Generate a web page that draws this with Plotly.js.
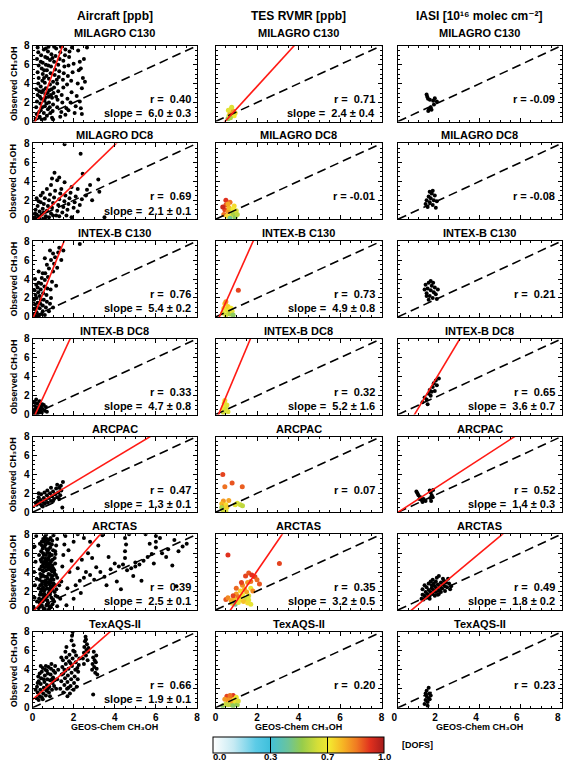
<!DOCTYPE html>
<html><head><meta charset="utf-8">
<script src="https://cdn.plot.ly/plotly-3.0.1.min.js"></script>
<style>html,body{margin:0;padding:0;background:#fff;overflow:hidden}#chart{width:563px;height:763px}</style>
</head><body><div id="chart"></div>
<script>
// ---------------- DATA ----------------
const campaigns = ['MILAGRO C130','MILAGRO DC8','INTEX-B C130','INTEX-B DC8','ARCPAC','ARCTAS','TexAQS-II'];
const columnTitles = ['Aircraft [ppb]','TES RVMR [ppb]','IASI [10\u00b9\u2076 molec cm\u207b\u00b2]'];
const xAxisTitle = 'GEOS-Chem CH\u2083OH';
const yAxisTitle = 'Observed CH\u2083OH';
const axisRange = [0, 8];
const oneToOne = [0, 8];
const dofsTicks = [0, 1/3, 2/3, 1.0];
const dofsTickText = ['0.0','0.3','0.7','1.0'];
const dofsTitle = '[DOFS]';

// correlation r per row: [Aircraft, TES, IASI]
const rValues = [
  [0.40, 0.71, -0.09],
  [0.69, -0.01, -0.08],
  [0.76, 0.73, 0.21],
  [0.33, 0.32, 0.65],
  [0.47, 0.07, 0.52],
  [0.39, 0.35, 0.49],
  [0.66, 0.20, 0.23]
];
const slopes = [
  [6.0, 2.4, null],
  [2.1, null, null],
  [5.4, 4.9, null],
  [4.7, 5.2, 3.6],
  [1.3, null, 1.4],
  [2.5, 3.2, 1.8],
  [1.9, null, null]
];
const slopeErrs = [
  [0.3, 0.4, null],
  [0.1, null, null],
  [0.2, 0.8, null],
  [0.8, 1.6, 0.7],
  [0.1, null, 0.3],
  [0.1, 0.5, 0.2],
  [0.1, null, null]
];
const intercepts = [
  [-0.8, -1.1, null],
  [-0.55, null, null],
  [-0.3, -0.9, null],
  [-0.6, -0.75, -2.9],
  [0.55, null, 0.0],
  [-0.25, -2.3, -1.2],
  [0.85, null, null]
];

// Aircraft [x, y]
const airMilagroC130 = [[0.15,0.3],[0.2,0.8],[0.18,1.5],[0.22,2.1],[0.25,2.8],[0.2,3.4],[0.28,4.0],[0.3,4.6],[0.25,5.2],[0.3,5.9],[0.22,6.6],[0.28,7.3],[0.35,0.5],[0.4,1.2],[0.38,1.9],[0.42,2.4],[0.45,3.1],[0.4,3.7],[0.48,4.3],[0.5,5.0],[0.45,5.6],[0.5,6.2],[0.42,7.0],[0.55,7.6],[0.55,0.9],[0.6,1.6],[0.58,2.2],[0.62,2.9],[0.65,3.5],[0.6,4.1],[0.68,4.8],[0.7,5.4],[0.65,6.0],[0.72,6.7],[0.75,7.4],[0.78,7.9],[0.7,0.6],[0.75,1.3],[0.8,2.0],[0.78,2.6],[0.82,3.3],[0.85,3.9],[0.8,4.5],[0.88,5.1],[0.9,5.8],[0.85,6.5],[0.92,7.1],[0.95,0.4],[0.98,1.1],[1.0,1.8],[0.95,2.5],[1.02,3.0],[1.05,3.6],[1.0,4.2],[1.08,4.9],[1.1,5.5],[1.05,6.3],[1.12,6.9],[1.15,7.7],[0.32,1.0],[0.36,2.6],[0.52,3.3],[0.56,4.6],[0.64,2.5],[0.74,3.0],[0.84,1.5],[0.9,2.8],[0.6,0.3],[0.45,0.2],[1.2,1.5],[1.22,2.3],[1.25,3.2],[1.2,4.0],[1.28,4.7],[1.3,5.3],[1.25,6.0],[1.32,6.6],[1.35,7.3],[1.38,7.9],[1.4,1.0],[1.45,2.0],[1.42,2.8],[1.5,3.6],[1.48,4.4],[1.52,5.1],[1.55,5.8],[1.5,6.4],[1.58,7.0],[1.6,7.6],[1.65,1.4],[1.7,2.4],[1.68,3.9],[1.72,4.8],[1.75,5.9],[1.78,6.8],[1.8,7.4],[1.85,2.0],[1.9,3.1],[1.88,4.3],[1.95,5.2],[2.0,6.1],[1.92,7.8],[2.05,0.9],[2.1,1.6],[2.15,2.7],[2.2,4.0],[2.25,5.4],[2.3,6.3],[2.22,7.5],[2.35,1.4],[2.3,2.1],[2.4,3.5],[2.45,4.6],[2.35,5.6],[2.5,6.6],[2.65,7.8],[2.4,0.8],[2.55,4.2],[1.35,0.5],[1.6,0.7],[1.0,0.2],[0.25,7.8],[0.65,7.7],[1.05,7.9],[1.75,1.2],[0.33,3.2],[0.47,1.5],[0.57,5.4],[0.68,1.9],[0.77,5.9],[0.93,3.4],[0.97,6.7],[1.15,2.6],[1.18,4.4],[0.4,6.3],[0.62,6.8],[0.87,0.9]];
const airMilagroDC8 = [[1.56,7.9],[2.34,6.9],[1.07,4.9],[1.3,4.4],[1.56,3.9],[2.44,4.8],[3.2,4.2],[2.8,3.6],[3.25,2.9],[2.2,3.2],[2.6,2.5],[2.9,2.0],[3.5,0.2],[1.9,0.2],[0.1,0.2],[0.2,0.5],[0.15,1.0],[0.3,0.3],[0.35,0.8],[0.25,1.4],[0.4,1.8],[0.45,0.5],[0.5,1.1],[0.55,1.6],[0.6,2.2],[0.65,0.3],[0.7,0.9],[0.75,1.4],[0.8,2.0],[0.85,2.6],[0.9,0.6],[0.95,1.2],[1.0,1.7],[1.05,2.3],[1.1,3.0],[1.15,0.4],[1.2,0.9],[1.25,1.5],[1.3,2.1],[1.35,2.7],[1.4,3.2],[1.45,0.7],[1.5,1.3],[1.55,1.9],[1.6,2.5],[1.7,1.0],[1.75,1.6],[1.8,2.2],[1.85,2.8],[1.9,3.4],[2.0,1.2],[2.05,1.8],[2.1,2.4],[2.2,0.8],[2.3,1.5],[2.4,2.1],[0.5,2.8],[0.7,3.2],[0.9,3.6],[0.6,0.1],[0.35,0.1],[0.8,0.2],[1.0,0.4],[1.3,0.3],[0.2,2.2],[0.4,2.5],[0.15,0.0],[0.3,1.9],[0.55,0.7],[1.65,0.4],[0.12,0.6],[1.2,4.1],[0.95,4.3],[2.65,3.1]];
const airIntexC130 = [[0.05,0.3],[0.1,0.8],[0.12,1.3],[0.08,1.8],[0.15,2.3],[0.1,2.8],[0.2,0.5],[0.22,1.0],[0.25,1.5],[0.2,2.0],[0.28,2.6],[0.25,3.1],[0.3,3.6],[0.32,0.2],[0.35,0.9],[0.38,1.4],[0.35,2.2],[0.4,2.9],[0.42,3.5],[0.45,4.1],[0.5,0.6],[0.5,1.2],[0.55,1.8],[0.52,2.5],[0.58,3.2],[0.6,3.9],[0.62,4.6],[0.65,1.0],[0.7,1.6],[0.68,2.3],[0.72,3.0],[0.75,4.2],[0.8,5.1],[0.85,1.4],[0.9,2.0],[0.88,2.9],[0.95,3.7],[1.0,4.8],[1.05,5.6],[1.1,6.3],[1.2,5.2],[1.25,6.8],[1.3,7.3],[1.15,3.3],[1.4,6.0],[1.5,7.0],[2.3,7.7],[0.3,0.1],[0.15,0.1],[0.45,0.3],[0.6,0.2],[0.8,0.6],[1.0,1.0],[0.4,1.8],[0.18,3.4],[0.5,4.6],[0.7,5.5],[0.9,6.0],[1.0,6.7],[0.12,4.0],[0.3,4.8],[0.6,6.2],[0.85,7.0]];
const airIntexDC8 = [[0.05,0.2],[0.1,0.5],[0.12,0.9],[0.15,0.3],[0.2,0.7],[0.22,1.2],[0.25,0.1],[0.3,0.5],[0.32,0.9],[0.35,1.4],[0.4,0.3],[0.42,0.8],[0.45,0.2],[0.5,0.6],[0.55,1.0],[0.6,0.4],[0.08,1.3],[0.18,1.6],[0.28,0.2],[0.38,0.6],[0.65,0.8],[0.7,0.3],[0.15,0.0],[0.48,1.1]];
const airArcpac = [[0.2,0.8],[0.25,1.2],[0.3,1.6],[0.35,0.9],[0.4,1.3],[0.42,1.9],[0.45,0.7],[0.5,1.1],[0.55,1.5],[0.58,2.1],[0.6,0.9],[0.65,1.3],[0.7,1.8],[0.72,2.3],[0.75,1.0],[0.8,1.5],[0.85,2.0],[0.9,1.2],[0.95,1.7],[1.0,2.2],[1.05,1.4],[1.1,1.9],[1.15,2.5],[1.2,1.6],[1.25,2.1],[1.3,2.6],[1.35,1.8],[1.4,2.3],[1.48,3.2],[1.45,0.5],[1.2,2.9],[0.9,2.6],[0.5,0.6],[0.3,2.0],[1.0,1.2],[1.3,1.4],[0.15,1.0],[1.38,2.8]];
const airArctas = [[0.3,0.2],[0.45,0.5],[0.6,0.1],[0.75,0.7],[0.9,0.3],[1.05,0.9],[1.2,0.4],[0.5,0.9],[0.35,0.8],[0.8,0.1],
 [0.32,1.2],[0.48,1.6],[0.62,1.1],[0.78,1.8],[0.92,1.3],[1.08,1.9],[1.22,1.4],[0.4,1.9],[0.7,1.4],[1.0,1.1],[0.55,1.3],[0.85,1.6],
 [0.3,2.3],[0.46,2.7],[0.6,2.1],[0.74,2.9],[0.88,2.4],[1.02,2.8],[1.16,2.2],[1.3,2.6],[0.52,2.4],[0.66,2.6],[0.95,2.1],[0.8,2.2],
 [0.34,3.2],[0.5,3.7],[0.64,3.1],[0.78,3.8],[0.92,3.3],[1.06,3.9],[1.2,3.4],[0.42,3.5],[0.7,3.5],[0.98,3.6],[0.56,3.0],[0.85,3.1],
 [0.36,4.3],[0.52,4.8],[0.66,4.2],[0.8,4.6],[0.94,4.1],[1.1,4.9],[0.44,4.6],[0.72,4.9],[1.0,4.4],[0.58,4.5],[0.86,4.3],
 [0.4,5.3],[0.55,5.8],[0.7,5.2],[0.84,5.7],[0.98,5.3],[1.12,5.9],[0.48,5.5],[0.76,5.5],[0.62,5.4],[0.9,5.1],
 [0.42,6.2],[0.58,6.7],[0.72,6.1],[0.86,6.6],[1.0,6.3],[0.5,6.5],[0.78,6.4],[0.64,6.9],[1.15,6.8],
 [0.45,7.2],[0.6,7.7],[0.74,7.1],[0.88,7.6],[1.02,7.9],[0.52,7.5],[0.8,7.4],[0.66,7.95],[1.2,7.5],
 [0.38,0.4],[0.53,0.2],[0.68,0.5],[0.83,0.4],[0.97,0.6],[0.42,1.1],[0.58,1.7],[0.72,1.0],[0.88,1.9],[1.12,1.5],[0.36,1.6],[0.64,1.5],
 [0.38,2.6],[0.55,2.0],[0.7,2.3],[0.84,2.7],[0.98,2.5],[1.1,2.6],[0.44,2.2],[0.62,2.8],[0.9,2.9],[0.46,3.0],[0.6,3.5],[0.74,3.3],
 [0.88,3.7],[1.02,3.2],[1.14,3.7],[0.38,3.8],[0.54,4.1],[0.68,4.6],[0.84,4.9],[0.96,4.7],[0.48,4.2],[0.62,4.9],[0.76,4.3],[0.44,5.1],
 [0.58,5.1],[0.66,5.8],[0.8,5.3],[0.94,5.8],[0.52,6.0],[0.68,6.4],[0.82,6.0],[0.94,6.9],[0.46,6.8],[0.56,7.2],[0.7,7.5],[0.84,7.0],
 [0.96,7.3],[0.62,7.3],[0.9,4.5],[0.32,5.8],[0.36,7.0],[1.08,5.5],[1.1,6.2],[1.06,4.2],
 [0.05,0.3],[0.1,1.3],[0.12,2.6],[0.08,4.0],[0.15,5.1],[0.1,6.7],[0.18,7.8],[0.2,3.3],[0.22,0.9],
 [1.35,1.2],[1.4,3.0],[1.45,4.6],[1.5,5.8],[1.55,6.9],[1.6,7.8],[1.7,2.3],[1.8,4.0],[1.9,5.2],[1.75,6.3],[2.0,7.2],[1.65,0.5],
 [2.1,2.6],[2.3,3.1],[2.5,3.4],[2.2,4.4],[2.6,4.0],[2.8,3.7],[3.0,3.2],[2.4,5.3],[2.7,6.0],[2.9,5.5],[3.1,4.5],[3.3,4.0],[3.5,3.5],[3.2,6.8],[2.5,7.6],[2.2,8.0],[3.6,2.6],[3.8,4.3],[4.0,4.9],[3.7,5.6],[2.35,1.8],[2.0,1.2],[3.4,7.9],[2.8,7.2],
 [4.2,4.6],[4.4,4.8],[4.5,5.5],[4.5,6.2],[4.55,6.9],[4.5,7.6],[4.6,4.2],[4.8,4.4],[5.0,4.6],[5.0,5.0],[5.2,4.8],[5.4,5.2],[5.6,5.6],[5.8,5.9],[5.7,7.0],[6.0,6.6],[6.0,7.2],[6.0,7.8],[6.3,6.0],[6.5,5.6],[6.8,4.7],[6.9,7.4],[7.1,6.2],[7.3,6.7],[7.5,7.0],[4.1,3.0],[4.9,3.6],[5.3,3.1],[6.2,7.6],[5.5,8.0],[7.0,2.5],[4.3,2.2],[4.7,8.0],[5.9,4.9],[6.6,6.4]];
const airTexaqs = [[0.2,1.0],[0.25,1.6],[0.22,2.2],[0.3,2.8],[0.28,3.3],[0.35,1.2],[0.38,1.9],[0.4,2.5],[0.42,3.1],[0.45,3.8],[0.5,0.9],[0.52,1.5],[0.55,2.1],[0.58,2.7],[0.6,3.4],[0.62,4.0],[0.65,1.3],[0.68,1.8],[0.7,2.4],[0.72,3.0],[0.75,3.6],[0.78,4.3],[0.8,1.6],[0.82,2.2],[0.85,2.9],[0.88,3.5],[0.9,4.1],[0.92,4.6],[0.95,1.9],[0.98,2.6],[1.0,3.2],[1.02,3.9],[1.05,2.3],[1.08,2.9],[1.1,3.7],[0.3,0.8],[0.45,1.1],[0.6,2.0],[0.75,2.0],[0.35,3.6],[0.5,4.2],[0.65,4.4],[0.85,1.2],[1.1,4.4],[0.4,4.4],[0.55,3.0],[0.7,3.9],[0.25,2.6],[0.95,3.0],[0.15,1.9],[1.2,3.0],[1.25,4.0],[1.15,2.0],
 [1.35,2.0],[1.4,2.8],[1.42,3.5],[1.45,4.3],[1.48,5.0],[1.5,1.6],[1.55,2.4],[1.58,3.1],[1.6,3.9],[1.62,4.6],[1.65,5.3],[1.68,2.0],[1.7,2.7],[1.72,3.4],[1.75,4.1],[1.78,4.9],[1.8,5.6],[1.82,1.5],[1.85,2.3],[1.88,3.0],[1.9,3.7],[1.92,4.4],[1.95,5.2],[1.98,6.0],[2.0,1.9],[2.02,2.6],[2.05,3.3],[2.08,4.0],[2.1,4.8],[2.12,5.5],[2.15,2.2],[2.2,3.0],[2.22,3.8],[2.25,4.5],[2.28,5.2],[1.9,7.1],[1.92,7.6],[1.95,8.0],[2.0,6.6],[1.6,5.9],[1.7,1.2],[1.5,3.6],[1.85,4.7],[2.05,5.9],[2.18,4.2],[1.55,4.0],[1.75,2.1],[1.4,5.3],[1.65,6.4],
 [2.45,5.2],[2.5,5.8],[2.52,6.4],[2.55,7.0],[2.58,7.5],[2.6,5.5],[2.62,6.1],[2.65,6.7],[2.68,5.0],[2.7,5.9],[2.5,4.6],[2.6,7.2],[2.72,6.3],
 [2.9,4.0],[2.92,4.6],[2.95,5.3],[2.98,5.9],[3.0,4.3],[3.02,5.0],[3.05,3.7],[3.08,4.8],[3.1,5.5],[3.12,4.1],[2.95,1.4],[3.15,3.5]];

// TES [x, y, DOFS]
const tesMilagroC130 = [[0.6,0.3,0.5],[0.65,0.6,0.62],[0.7,0.9,0.78],[0.75,1.3,0.65],[0.8,0.7,0.88],[0.85,1.1,0.8],[0.9,0.6,0.68],[0.72,0.4,0.55],[0.95,0.9,0.66],[0.62,1.2,0.64],[0.78,1.5,0.63]];
const tesMilagroDC8 = [[0.4,0.5,0.85],[0.45,1.0,0.9],[0.5,1.5,0.88],[0.55,0.3,0.7],[0.6,0.8,0.8],[0.65,1.2,0.75],[0.7,1.8,0.85],[0.75,0.4,0.65],[0.8,1.0,0.6],[0.85,0.6,0.55],[0.9,1.4,0.7],[0.95,0.2,0.5],[1.0,0.9,0.62],[0.5,2.0,0.92],[0.35,1.3,0.95],[0.7,0.1,0.45],[0.6,1.6,0.78],[0.85,1.1,0.68],[1.05,0.5,0.58]];
const tesIntexC130 = [[0.35,0.4,0.65],[0.4,0.9,0.7],[0.45,1.4,0.75],[0.5,0.2,0.6],[0.55,0.7,0.66],[0.6,1.1,0.72],[0.65,0.5,0.62],[0.7,0.3,0.55],[0.75,0.9,0.68],[0.8,0.6,0.64],[0.85,0.2,0.5],[1.1,2.8,0.9],[0.5,1.6,0.8]];
const tesIntexDC8 = [[0.35,0.4,0.65],[0.4,0.8,0.68],[0.42,1.2,0.66],[0.45,1.5,0.7],[0.5,0.6,0.62],[0.55,1.0,0.64],[0.38,0.2,0.6],[0.6,0.3,0.63]];
const tesArcpac = [[0.35,4.0,0.9],[0.45,2.7,0.85],[0.8,3.1,0.88],[1.29,2.7,0.87],[0.38,1.2,0.8],[0.64,1.25,0.78],[0.3,0.9,0.75],[0.4,0.6,0.82],[0.5,0.8,0.7],[0.45,0.3,0.65],[0.35,0.2,0.6],[0.55,0.5,0.72],[0.5,0.1,0.62],[0.95,0.8,0.64],[1.05,0.95,0.62],[1.2,0.8,0.6],[1.3,0.7,0.58],[0.3,0.5,0.55]];
const tesArctas = [[0.6,5.8,0.92],[3.08,4.9,0.9],[1.45,3.6,0.9],[1.6,3.9,0.88],[1.75,3.7,0.92],[1.9,3.5,0.9],[2.0,3.2,0.86],[2.12,2.75,0.88],[1.7,3.0,0.85],[1.55,2.9,0.8],[1.3,2.6,0.82],[1.4,2.2,0.76],[1.2,2.0,0.7],[1.5,1.9,0.78],[1.7,2.3,0.66],[1.0,1.7,0.8],[1.1,1.4,0.85],[1.3,1.6,0.68],[1.6,1.5,0.62],[0.9,1.2,0.75],[1.2,1.1,0.7],[1.45,1.2,0.6],[1.6,1.05,0.64],[0.5,1.1,0.88],[0.6,1.3,0.82],[0.75,1.0,0.78],[0.8,0.7,0.72],[0.95,0.6,0.45],[1.1,0.8,0.66],[1.35,0.9,0.74],[1.55,0.75,0.7],[1.7,0.6,0.65],[0.85,1.5,0.9],[1.0,2.3,0.86],[1.25,2.9,0.9],[1.8,2.0,0.82]];
const tesTexaqs = [[0.35,0.2,0.5],[0.5,0.4,0.6],[0.55,1.2,0.9],[0.6,0.8,0.82],[0.65,0.5,0.75],[0.7,1.0,0.8],[0.75,0.3,0.55],[0.8,0.7,0.78],[0.85,1.3,0.92],[0.9,0.9,0.7],[0.95,0.5,0.65],[1.0,1.1,0.66],[1.05,0.3,0.52],[0.45,0.9,0.8],[0.7,1.3,0.85],[0.85,0.2,0.5],[1.1,0.7,0.62],[0.6,0.3,0.58]];

// IASI [x, y]
const iasiMilagroC130 = [[1.4,2.85],[1.43,2.6],[1.47,2.4],[1.56,2.3],[1.72,2.2],[1.8,2.45],[1.9,2.1],[1.64,1.25],[1.48,1.1],[1.6,1.5],[1.76,1.8],[1.52,1.3]];
const iasiMilagroDC8 = [[1.35,1.6],[1.4,2.0],[1.45,1.3],[1.5,2.4],[1.55,1.8],[1.6,2.2],[1.65,2.7],[1.7,1.5],[1.75,2.0],[1.8,2.5],[1.85,1.2],[1.9,1.9],[1.55,2.9],[1.7,3.0]];
const iasiIntexC130 = [[1.3,2.9],[1.35,3.4],[1.4,2.5],[1.45,3.0],[1.5,3.6],[1.55,2.2],[1.6,2.8],[1.65,3.3],[1.7,2.0],[1.75,2.6],[1.8,3.1],[1.85,2.4],[1.9,1.9],[1.5,1.8],[1.6,3.8],[1.72,3.6],[1.4,2.2],[1.95,2.9]];
const iasiIntexDC8 = [[1.2,1.3],[1.3,1.8],[1.4,1.6],[1.5,2.2],[1.55,2.6],[1.6,2.0],[1.7,2.9],[1.75,3.3],[1.8,2.5],[1.85,3.6],[1.9,3.1],[2.0,3.8],[1.45,1.1],[1.65,2.4]];
const iasiArcpac = [[0.9,2.2],[0.95,2.0],[1.0,1.8],[1.05,1.4],[1.1,1.6],[1.15,1.3],[1.2,1.1],[1.25,1.4],[1.55,2.3],[1.6,2.1],[1.65,1.8],[1.7,1.6],[1.62,1.2],[1.72,2.35],[1.58,1.5],[1.35,1.2]];
const iasiArctas = [[1.15,1.2],[1.2,1.6],[1.25,1.1],[1.3,1.5],[1.35,1.9],[1.4,1.3],[1.45,1.7],[1.5,2.1],[1.55,1.5],[1.6,1.9],[1.65,2.3],[1.7,1.7],[1.75,2.1],[1.8,2.5],[1.85,1.9],[1.9,2.3],[1.95,2.7],[2.0,2.1],[2.05,2.5],[2.1,2.9],[2.15,2.3],[2.2,2.7],[2.25,3.1],[2.3,2.5],[2.35,2.9],[2.4,2.4],[2.5,2.8],[2.55,2.2],[1.5,2.8],[1.6,3.0],[1.7,3.2],[1.9,3.4],[2.0,3.6],[2.2,3.3],[1.8,1.5],[2.0,1.7],[2.1,1.9],[1.4,2.4],[1.3,2.6],[1.65,2.6],[1.75,2.8],[1.95,1.6],[2.3,2.0],[1.55,1.2],[1.85,3.0],[2.45,3.3],[1.2,2.2],[2.6,2.5]];
const iasiTexaqs = [[1.3,0.4],[1.35,0.8],[1.4,1.2],[1.45,0.6],[1.5,1.0],[1.55,1.5],[1.4,1.8],[1.5,2.1],[1.6,1.3],[1.35,1.5],[1.45,0.2],[1.55,0.9]];

const aircraftData = [airMilagroC130, airMilagroDC8, airIntexC130, airIntexDC8, airArcpac, airArctas, airTexaqs];
const tesData = [tesMilagroC130, tesMilagroDC8, tesIntexC130, tesIntexDC8, tesArcpac, tesArctas, tesTexaqs];
const iasiData = [iasiMilagroC130, iasiMilagroDC8, iasiIntexC130, iasiIntexDC8, iasiArcpac, iasiArctas, iasiTexaqs];

// ---------------- LAYOUT (pixels) ----------------
const W = 563, H = 763;
const colL = [32.5, 215.5, 398];
const colR = [197, 381.5, 561.5];
const rowTop0 = 45.7, rowStep = 97.7, rowH = 75.8;
const cbarL = 213.3, cbarR = 384, cbarTop = 737, cbarBot = 753;
const FONT = 'Liberation Sans, Arial, Helvetica, DejaVu Sans, sans-serif';
const px = v => v / W;
const py = v => 1 - v / H;

const traces = [];
const annotations = [];
const layout = {
  width: W, height: H,
  margin: {l: 0, r: 0, t: 0, b: 0, pad: 0, autoexpand: false},
  paper_bgcolor: '#fff', plot_bgcolor: '#fff',
  showlegend: false, hovermode: false,
  font: {family: FONT, color: '#000'},
  coloraxis: {
    cmin: 0, cmax: 1,
    colorscale: [[0,'#ffffff'],[0.12,'#c6eaf3'],[0.25,'#5ccbe6'],[0.33,'#40c0dc'],[0.44,'#6cc49a'],[0.52,'#96cc4c'],[0.61,'#d4de38'],[0.68,'#f4e830'],[0.76,'#f6b424'],[0.84,'#f07a22'],[0.92,'#e0301e'],[1,'#a41c1c']],
    colorbar: {
      orientation: 'h', x: px((cbarL + cbarR) / 2), xanchor: 'center', y: py(cbarTop), yanchor: 'top',
      len: cbarR - cbarL, lenmode: 'pixels', thickness: cbarBot - cbarTop, thicknessmode: 'pixels',
      xpad: 0, ypad: 0, outlinewidth: 1, outlinecolor: '#000',
      tickmode: 'array', tickvals: dofsTicks, showticklabels: false,
      ticks: 'inside', ticklen: cbarBot - cbarTop, tickcolor: '#000', tickwidth: 1
    }
  },
  annotations: annotations
};

const fmtR = v => 'r = ' + (v < 0 ? '-' : '\u00a0') + Math.abs(v).toFixed(2);
const fmtS = (s, e) => 'slope = \u00a0' + s.toFixed(1) + ' \u00b1 ' + e.toFixed(1);

for (let r = 0; r < 7; r++) {
  const top = rowTop0 + r * rowStep;
  for (let c = 0; c < 3; c++) {
    const k = r * 3 + c;
    const id = k === 0 ? '' : String(k + 1);
    const axBase = {
      range: axisRange, autorange: false, showgrid: false, zeroline: false,
      showline: true, linecolor: '#000', linewidth: 1, mirror: 'allticks',
      ticks: 'inside', ticklen: 4, tickwidth: 1, tickcolor: '#000',
      tick0: 0, dtick: 2,
      minor: {ticks: 'inside', ticklen: 2, dtick: 0.5, tickcolor: '#000', showgrid: false},
      tickfont: {family: FONT, size: 10, weight: 'bold'}, fixedrange: true
    };
    const xa = Object.assign({}, axBase, {
      domain: [px(colL[c]), px(colR[c])], anchor: 'y' + id, showticklabels: r === 6,
      ticklabeloverflow: 'allow'
    });
    if (c === 2) xa.ticklabelposition = 'outside left';
    layout['xaxis' + id] = xa;
    layout['yaxis' + id] = Object.assign({}, axBase, {
      domain: [py(top + rowH), py(top)], anchor: 'x' + id, showticklabels: c === 0
    });
    const xr = 'x' + id, yr = 'y' + id;

    if (c === 1) {
      const d = tesData[r];
      traces.push({type: 'scatter', mode: 'markers', xaxis: xr, yaxis: yr,
        x: d.map(p => p[0]), y: d.map(p => p[1]),
        marker: {size: 5, color: d.map(p => p[2]), coloraxis: 'coloraxis', line: {width: 0}}});
    } else {
      const d = c === 0 ? aircraftData[r] : iasiData[r];
      traces.push({type: 'scatter', mode: 'markers', xaxis: xr, yaxis: yr,
        x: d.map(p => p[0]), y: d.map(p => p[1]),
        marker: {size: 4, color: '#000', line: {width: 0}}});
    }
    traces.push({type: 'scatter', mode: 'lines', xaxis: xr, yaxis: yr,
      x: oneToOne, y: oneToOne, line: {color: '#000', width: 1.6, dash: '9px,5px'}});
    if (slopes[r][c] !== null) {
      const s = slopes[r][c], b = intercepts[r][c];
      traces.push({type: 'scatter', mode: 'lines', xaxis: xr, yaxis: yr,
        x: axisRange, y: axisRange.map(v => b + s * v), line: {color: '#ff1a14', width: 1.6}});
    }
    annotations.push({xref: xr, yref: yr, x: 7.8, y: 2.4, xanchor: 'right', yanchor: 'middle',
      text: fmtR(rValues[r][c]), showarrow: false, font: {family: FONT, size: 11, weight: 'bold'}});
    if (slopes[r][c] !== null) {
      annotations.push({xref: xr, yref: yr, x: 7.8, y: 0.9, xanchor: 'right', yanchor: 'middle',
        text: fmtS(slopes[r][c], slopeErrs[r][c]), showarrow: false, font: {family: FONT, size: 11, weight: 'bold'}});
    }
    const tY = r === 0 ? top - 12.4 : top - 8;
    annotations.push({xref: 'paper', yref: 'paper', x: px((colL[c] + colR[c]) / 2), y: py(tY),
      xanchor: 'center', yanchor: 'middle', text: campaigns[r], showarrow: false,
      font: {family: FONT, size: 11, weight: 'bold'}});
    if (c === 0) {
      annotations.push({xref: 'paper', yref: 'paper', x: px(13.5), y: py(top + rowH / 2),
        xanchor: 'center', yanchor: 'middle', textangle: -90, text: yAxisTitle, showarrow: false,
        font: {family: FONT, size: 9, weight: 'bold'}});
    }
    if (r === 6) {
      annotations.push({xref: 'paper', yref: 'paper', x: px((colL[c] + colR[c]) / 2), y: py(727.3),
        xanchor: 'center', yanchor: 'middle', text: xAxisTitle, showarrow: false,
        font: {family: FONT, size: 9, weight: 'bold'}});
    }
  }
}
for (let c = 0; c < 3; c++) {
  annotations.push({xref: 'paper', yref: 'paper', x: px((colL[c] + colR[c]) / 2), y: py(16),
    xanchor: 'center', yanchor: 'middle', text: columnTitles[c], showarrow: false,
    font: {family: FONT, size: 12, weight: 'bold'}});
}
// colorbar labels and unit
dofsTicks.forEach((v, i) => {
  const xp = cbarL + v * (cbarR - cbarL);
  annotations.push({xref: 'paper', yref: 'paper', x: px(i === 0 ? xp + 6 : xp), y: py(756.5),
    xanchor: 'center', yanchor: 'middle', text: dofsTickText[i], showarrow: false,
    font: {family: FONT, size: 9.5, weight: 'bold'}});
});
annotations.push({xref: 'paper', yref: 'paper', x: px(400), y: py(745), xanchor: 'left', yanchor: 'middle',
  text: dofsTitle, showarrow: false, font: {family: FONT, size: 9, weight: 'bold'}});

traces.push({type: 'scatter', mode: 'markers', x: [null], y: [null], xaxis: 'x', yaxis: 'y',
  marker: {color: [0], coloraxis: 'coloraxis'}, showlegend: false});

Plotly.newPlot('chart', traces, layout, {staticPlot: true, displayModeBar: false});
</script></body></html>
